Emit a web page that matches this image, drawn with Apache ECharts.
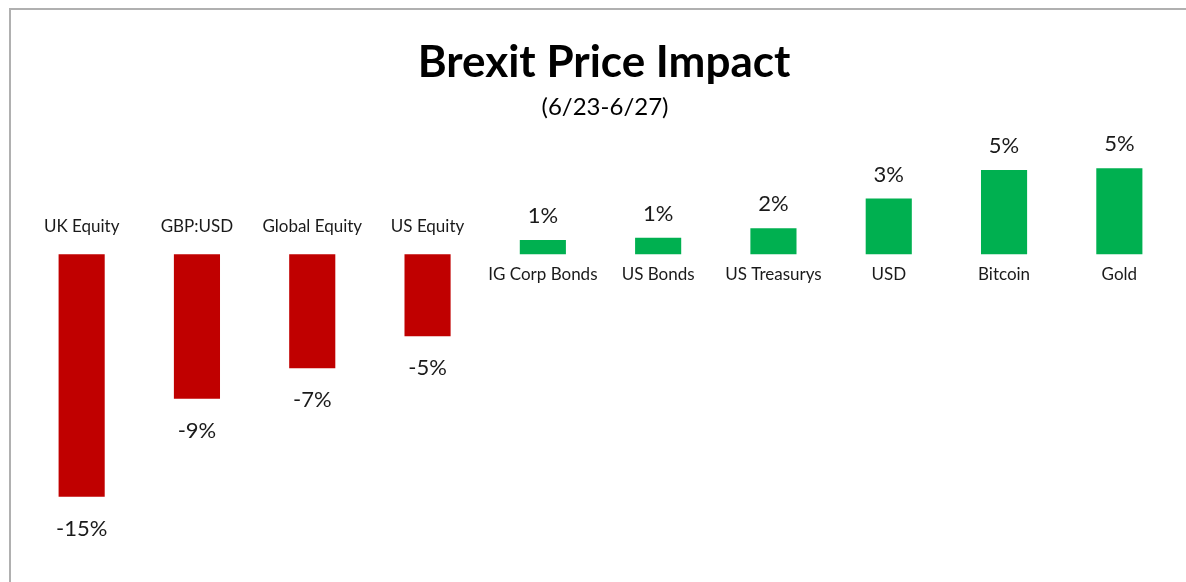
<!DOCTYPE html>
<html><head><meta charset="utf-8">
<script src="https://cdn.jsdelivr.net/npm/echarts@6/dist/echarts.min.js"></script>
<style>html,body{margin:0;padding:0;background:#fff}#c{width:1186px;height:582px}</style>
</head><body><div id="c"></div>
<script>
const categories = ["UK Equity","GBP:USD","Global Equity","US Equity","IG Corp Bonds","US Bonds","US Treasurys","USD","Bitcoin","Gold"];
const values = [-15.0,-8.94,-7.05,-5.06,0.88,1.03,1.61,3.45,5.22,5.32];
const titleText = "Brexit Price Impact";
const subtitleText = "(6/23-6/27)";

const RED = "#c00000", GREEN = "#00b050";
const FONT = "Lato";
const chart = echarts.init(document.getElementById('c'));

const valueData = values.map(v => ({
  value: v,
  itemStyle: {color: v < 0 ? RED : GREEN},
  label: {position: v < 0 ? 'bottom' : 'top', distance: v < 0 ? 21 : 13}
}));
const catData = values.map((v, i) => ({
  value: v,
  label: {position: v < 0 ? 'top' : 'bottom', distance: v < 0 ? 19 : 12, formatter: categories[i]}
}));

chart.setOption({
  animation: false,
  title: [
    {text: titleText, left: 599, top: 36, textAlign: 'center',
     textStyle: {fontFamily: FONT, fontWeight: 'bold', fontSize: 44, color: '#000'}},
    {text: subtitleText, left: 600, top: 90, textAlign: 'center',
     textStyle: {fontFamily: FONT, fontWeight: 'normal', fontSize: 24, color: '#000'}}
  ],
  graphic: [
    {type: 'line', shape: {x1: 9, y1: 9, x2: 1186, y2: 9}, style: {stroke: '#b0b0b0', lineWidth: 2}},
    {type: 'line', shape: {x1: 10, y1: 8, x2: 10, y2: 582}, style: {stroke: '#b0b0b0', lineWidth: 2}}
  ],
  grid: {left: 24, right: 9, top: 125, bottom: 69},
  xAxis: {type: 'category', data: categories, show: false},
  yAxis: {type: 'value', min: -16, max: 8, show: false},
  series: [
    {type: 'bar', data: valueData, barWidth: '40%',
     label: {show: true, fontFamily: FONT, fontSize: 22, color: '#1a1a1a',
       formatter: p => Math.round(p.value) + '%'}},
    {type: 'bar', data: catData, barWidth: '40%', barGap: '-100%',
     itemStyle: {color: 'rgba(0,0,0,0)'}, silent: true,
     label: {show: true, fontFamily: FONT, fontSize: 17, color: '#1a1a1a'}}
  ]
});
</script></body></html>
